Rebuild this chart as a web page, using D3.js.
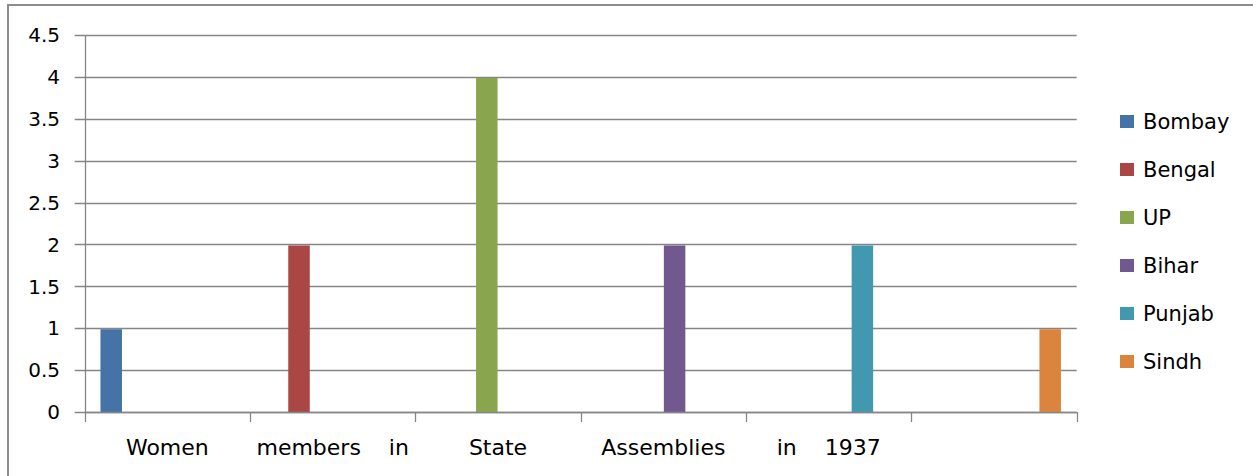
<!DOCTYPE html>
<html>
<head>
<meta charset="utf-8">
<script src="https://cdn.jsdelivr.net/npm/d3@7"></script>
<style>
  html, body { margin: 0; padding: 0; background: #fff; }
  svg { display: block; }
  text { font-family: "DejaVu Sans", sans-serif; fill: #000; }
</style>
</head>
<body>
<svg id="chart" width="1253" height="476"></svg>
<script>
// ---- data ----
const categories = ["Women", "members    in", "State", "Assemblies", "in    1937", ""];
const seriesNames = ["Bombay", "Bengal", "UP", "Bihar", "Punjab", "Sindh"];
const seriesColors = ["#4572A7", "#AA4643", "#89A54E", "#71588F", "#4198AF", "#DB843D"];
// value of each series in each category (one state per category)
const bombay = [1, 0, 0, 0, 0, 0];
const bengal = [0, 2, 0, 0, 0, 0];
const up     = [0, 0, 4, 0, 0, 0];
const bihar  = [0, 0, 0, 2, 0, 0];
const punjab = [0, 0, 0, 0, 2, 0];
const sindh  = [0, 0, 0, 0, 0, 1];
const yTicks = [0, 0.5, 1, 1.5, 2, 2.5, 3, 3.5, 4, 4.5];

const seriesValues = [bombay, bengal, up, bihar, punjab, sindh];

// ---- layout ----
const svg = d3.select("#chart");
const plot = { left: 84.7, right: 1076.7, top: 35, bottom: 412 };
const gridColor = "#868686";

// outer frame (extends past viewport on right/bottom)
svg.append("rect")
  .attr("x", 8).attr("y", 5)
  .attr("width", 1300).attr("height", 600)
  .attr("fill", "none").attr("stroke", "#8c8c8c").attr("stroke-width", 2);

const x0 = d3.scaleBand()
  .domain(d3.range(categories.length))
  .range([plot.left, plot.right])
  .paddingInner(0).paddingOuter(0);

const x1 = d3.scaleBand()
  .domain(d3.range(seriesNames.length))
  .range([0, x0.bandwidth()])
  .paddingInner(0.043).paddingOuter(0.702);

const y = d3.scaleLinear().domain([0, 4.5]).range([plot.bottom, plot.top]);

// gridlines
svg.append("g")
  .selectAll("line")
  .data(yTicks)
  .join("line")
  .attr("x1", plot.left - 10).attr("x2", plot.right)
  .attr("y1", d => Math.round(y(d)) + 0.5).attr("y2", d => Math.round(y(d)) + 0.5)
  .attr("stroke", gridColor).attr("stroke-width", 1.3);

// y axis line
svg.append("line")
  .attr("x1", Math.round(plot.left) + 0.5).attr("x2", Math.round(plot.left) + 0.5)
  .attr("y1", plot.top).attr("y2", plot.bottom)
  .attr("stroke", gridColor).attr("stroke-width", 1.3);

// y labels
svg.append("g")
  .selectAll("text")
  .data(yTicks)
  .join("text")
  .attr("x", 60)
  .attr("y", d => y(d))
  .attr("dy", "0.36em")
  .attr("text-anchor", "end")
  .attr("font-size", 20)
  .text(d => d3.format("~g")(d));

// bars
const flat = [];
seriesValues.forEach((vals, s) => vals.forEach((v, c) => { if (v > 0) flat.push({ s, c, v }); }));
svg.append("g")
  .selectAll("rect")
  .data(flat)
  .join("rect")
  .attr("x", d => x0(d.c) + x1(d.s))
  .attr("y", d => y(d.v) + 1)
  .attr("width", x1.bandwidth())
  .attr("height", d => y(0) - y(d.v) - 1)
  .attr("fill", d => seriesColors[d.s]);

// x axis line + category ticks
svg.append("line")
  .attr("x1", plot.left).attr("x2", plot.right)
  .attr("y1", Math.round(plot.bottom) + 0.5).attr("y2", Math.round(plot.bottom) + 0.5)
  .attr("stroke", gridColor).attr("stroke-width", 1.3);

const boundaries = d3.range(categories.length + 1).map(i => i < categories.length ? x0(i) : plot.right);
svg.append("g")
  .selectAll("line")
  .data(boundaries)
  .join("line")
  .attr("x1", d => Math.round(d) + 0.5).attr("x2", d => Math.round(d) + 0.5)
  .attr("y1", plot.bottom).attr("y2", plot.bottom + 10)
  .attr("stroke", gridColor).attr("stroke-width", 1.3);

// x labels
svg.append("g")
  .selectAll("text")
  .data(categories)
  .join("text")
  .attr("x", (d, i) => x0(i) + x0.bandwidth() / 2)
  .attr("y", 455)
  .attr("text-anchor", "middle")
  .attr("font-size", 22)
  .attr("xml:space", "preserve")
  .style("white-space", "pre")
  .text(d => d);

// legend
const legend = svg.append("g")
  .selectAll("g")
  .data(seriesNames)
  .join("g")
  .attr("transform", (d, i) => `translate(1120, ${121.5 + i * 48})`);
legend.append("rect")
  .attr("x", 0).attr("y", -6.5)
  .attr("width", 14).attr("height", 13)
  .attr("fill", (d, i) => seriesColors[i]);
legend.append("text")
  .attr("x", 23).attr("y", 0).attr("dy", "0.36em")
  .attr("font-size", 21)
  .text(d => d);
</script>
</body>
</html>
